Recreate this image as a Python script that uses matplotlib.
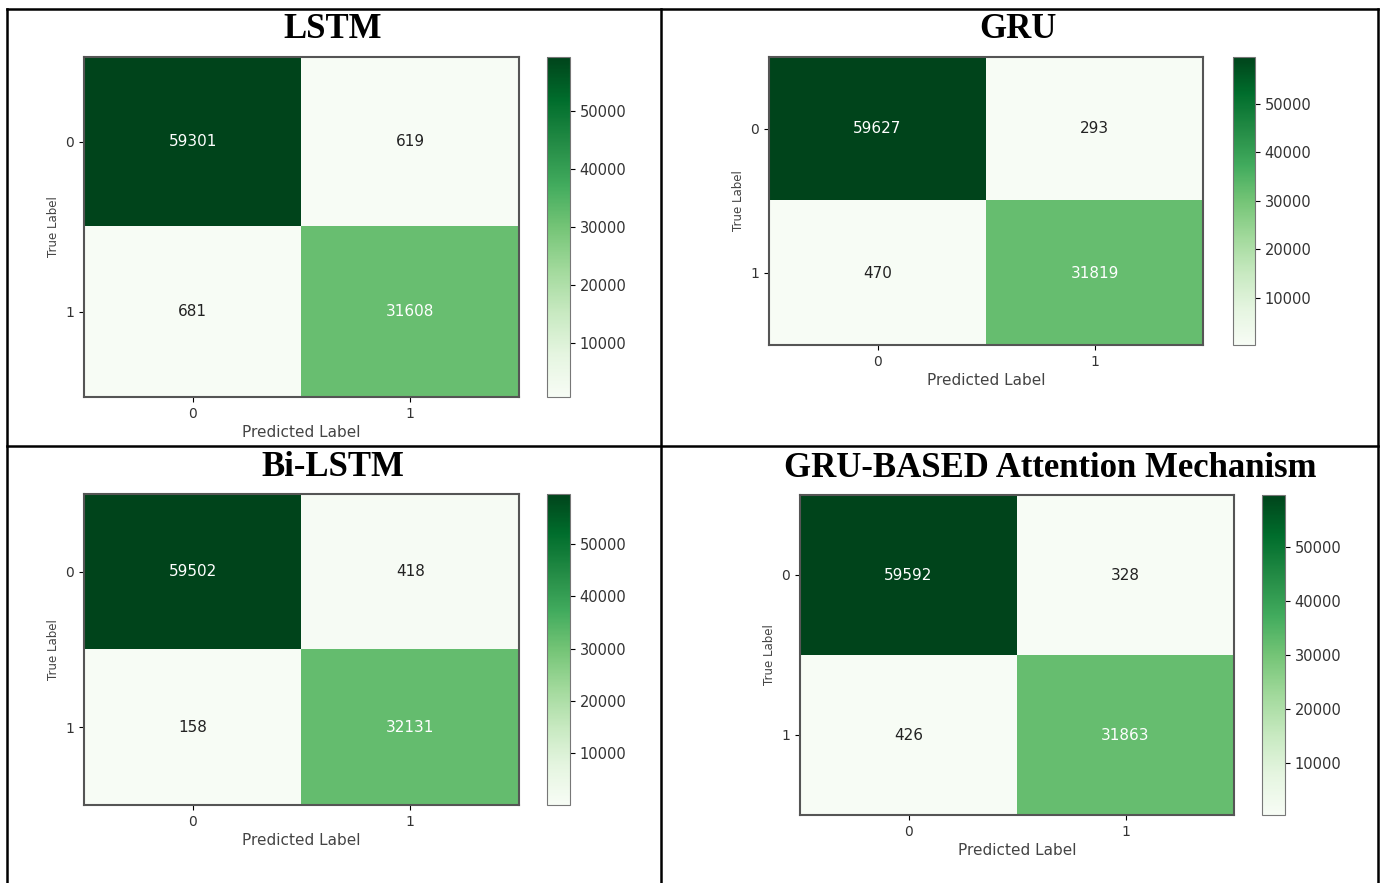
import numpy as np
import matplotlib.pyplot as plt
from matplotlib.lines import Line2D

# confusion matrices (rows: true 0/1, cols: predicted 0/1)
lstm_cm = [[59301, 619], [681, 31608]]
gru_cm = [[59627, 293], [470, 31819]]
bilstm_cm = [[59502, 418], [158, 32131]]
attn_cm = [[59592, 328], [426, 31863]]

titles = ["LSTM", "GRU", "Bi-LSTM", "GRU-BASED Attention Mechanism"]
class_labels = ["0", "1"]
cbar_ticks = [10000, 20000, 30000, 40000, 50000]

W, H = 1385, 883

# pixel boxes (x0, y0, x1, y1): heatmap, colorbar, title centre
panels = [
    dict(cm=lstm_cm, ax=(84, 57, 519, 397), cb=(547, 57, 570, 397), title=(333, 30)),
    dict(cm=gru_cm, ax=(769, 57, 1203, 345), cb=(1233, 57, 1255, 345), title=(1018, 30)),
    dict(cm=bilstm_cm, ax=(84, 494, 519, 805), cb=(547, 494, 570, 805), title=(333, 467)),
    dict(cm=attn_cm, ax=(800, 495, 1234, 815), cb=(1262, 495, 1285, 815), title=(1050, 468)),
]


def px_box(box):
    x0, y0, x1, y1 = box
    return [x0 / W, 1 - y1 / H, (x1 - x0) / W, (y1 - y0) / H]


def draw_cm(fig, panel, title):
    cm = np.array(panel["cm"])
    ax = fig.add_axes(px_box(panel["ax"]))
    cax = fig.add_axes(px_box(panel["cb"]))

    im = ax.imshow(cm, cmap="Greens", aspect="auto", interpolation="nearest")
    thresh = (cm.max() + cm.min()) / 2
    for i in range(cm.shape[0]):
        for j in range(cm.shape[1]):
            color = "white" if cm[i, j] > thresh else "#222222"
            ax.text(j, i, str(cm[i, j]), ha="center", va="center",
                    color=color, fontsize=11)

    ax.set_xticks(range(len(class_labels)), class_labels, fontsize=10, color="#333333")
    ax.set_yticks(range(len(class_labels)), class_labels, fontsize=10, color="#333333")
    ax.set_xlabel("Predicted Label", fontsize=11, color="#444444", labelpad=3)
    ax.set_ylabel("True Label", fontsize=8.5, color="#444444")
    for sp in ax.spines.values():
        sp.set_color("#555555")
        sp.set_linewidth(1.5)

    cb = fig.colorbar(im, cax=cax, ticks=cbar_ticks)
    cb.ax.tick_params(labelsize=10.5, labelcolor="#333333")
    cb.outline.set_edgecolor("#777777")

    tx, ty = panel["title"]
    fig.text(tx / W, 1 - ty / H, title, ha="center", va="center",
             fontsize=25, fontweight="bold", family="Liberation Serif")


fig = plt.figure(figsize=(W / 100, H / 100), dpi=100)

for panel, title in zip(panels, titles):
    draw_cm(fig, panel, title)

# frame around the four panels (open at the bottom, as in the source)
frame = [
    ((7, 1378), (9, 9)),
    ((7, 7), (9, H)),
    ((1378, 1378), (9, H)),
    ((661, 661), (9, H)),
    ((7, 1378), (446, 446)),
]
for xs, ys in frame:
    fig.add_artist(Line2D([x / W for x in xs], [1 - y / H for y in ys],
                          color="black", linewidth=1.8, transform=fig.transFigure))

fig.savefig("out.png", dpi=100)
